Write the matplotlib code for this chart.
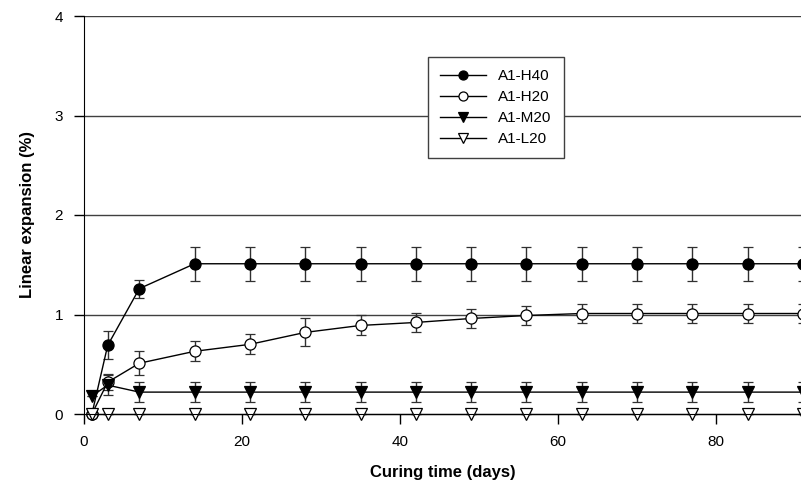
import numpy as np
import matplotlib
matplotlib.use("Agg")
import matplotlib.pyplot as plt
from matplotlib.lines import Line2D

plt.rcParams["font.family"] = ["Liberation Sans", "DejaVu Sans"]

days = [1, 3, 7, 14, 21, 28, 35, 42, 49, 56, 63, 70, 77, 84, 91]
h40 = [0.0, 0.69, 1.26, 1.51, 1.51, 1.51, 1.51, 1.51, 1.51, 1.51, 1.51, 1.51, 1.51, 1.51, 1.51]
h40_err = [0.0, 0.14, 0.09, 0.17, 0.17, 0.17, 0.17, 0.17, 0.17, 0.17, 0.17, 0.17, 0.17, 0.17, 0.17]
h20 = [0.0, 0.32, 0.51, 0.63, 0.70, 0.82, 0.89, 0.92, 0.96, 0.99, 1.01, 1.01, 1.01, 1.01, 1.01]
h20_err = [0.0, 0.08, 0.12, 0.10, 0.10, 0.14, 0.10, 0.10, 0.10, 0.10, 0.10, 0.10, 0.10, 0.10, 0.10]
m20 = [0.18, 0.29, 0.22, 0.22, 0.22, 0.22, 0.22, 0.22, 0.22, 0.22, 0.22, 0.22, 0.22, 0.22, 0.22]
m20_err = [0.0, 0.10, 0.10, 0.10, 0.10, 0.10, 0.10, 0.10, 0.10, 0.10, 0.10, 0.10, 0.10, 0.10, 0.10]
l20 = [0.0] * 15
l20_err = [0.0] * 15

series = [
    ("A1-H40", h40, h40_err, "o", "black"),
    ("A1-H20", h20, h20_err, "o", "white"),
    ("A1-M20", m20, m20_err, "v", "black"),
    ("A1-L20", l20, l20_err, "v", "white"),
]

fig = plt.figure(figsize=(8.01, 4.84), dpi=100)
ax = fig.add_axes([84 / 801, 1 - 414 / 484, 1 - 84 / 801, 398 / 484])

for y in [1, 2, 3, 4]:
    ax.axhline(y, color="#404040", lw=1.0, zorder=0)

handles = []
for name, vals, err, mk, fc in series:
    ms = 8 if mk == "o" else 9
    ax.errorbar(days, vals, yerr=err, fmt="-", marker=mk, ms=ms,
                mfc=fc, mec="black", mew=0.9, color="black", lw=1.0,
                ecolor="#303030", elinewidth=1.0, capsize=3.5, capthick=1.0,
                clip_on=False)
    handles.append(Line2D([], [], color="black", lw=1.0, marker=mk, ms=ms - 1.5,
                          mfc=fc, mec="black", mew=0.9, label=name))

ax.set_xlim(0, 717 / 7.9)
ax.set_ylim(0, 4)
ax.set_xticks([0, 20, 40, 60, 80])
ax.set_yticks([0, 1, 2, 3, 4])
ax.spines["top"].set_visible(False)
ax.spines["right"].set_visible(False)
ax.tick_params(direction="out", length=7, width=1, labelsize=11, pad=8)
ax.set_xlabel("Curing time (days)", fontsize=12, fontweight="bold", labelpad=12)
ax.set_ylabel("Linear expansion (%)", fontsize=12, fontweight="bold", labelpad=14)

leg = ax.legend(handles=handles, loc="upper left",
                bbox_to_anchor=((428 - 84) / 717, (414 - 57) / 398),
                fontsize=11, frameon=True, fancybox=False, edgecolor="#404040",
                framealpha=1, handlelength=3.0, handletextpad=0.8, labelspacing=0.45,
                borderpad=0.8, borderaxespad=0)
leg.get_frame().set_linewidth(1.0)

fig.savefig("out.png", dpi=100)
